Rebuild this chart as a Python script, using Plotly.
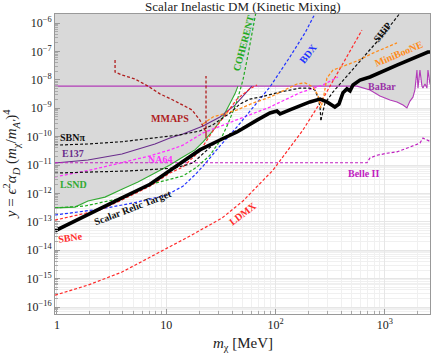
import numpy as np
import plotly.graph_objects as go

# ---------------- data (m_chi in MeV, y dimensionless) ----------------
relic_m = [0.96, 2.0, 3.93, 7.1, 10.8, 20.3, 31.0, 44.4, 67.6, 88.8, 103, 110, 135, 206, 255, 295, 349, 380, 414, 450, 480, 511, 592, 731, 1291, 1698, 2479, 2642]
relic_y = [4.8e-14, 2.0e-13, 6.9e-13, 2.1e-12, 6.2e-12, 3.4e-11, 7.6e-11, 1.45e-10, 3.8e-10, 6.8e-10, 7.9e-10, 6.3e-10, 8.7e-10, 1.66e-9, 2.1e-9, 1.66e-9, 1.1e-9, 1.4e-9, 3.5e-9, 4.8e-9, 4.1e-9, 6.6e-9, 9.8e-9, 1.26e-8, 3.3e-8, 5.0e-8, 9.5e-8, 9.5e-8]

babar_m = [0.96, 470, 556, 731, 902, 1114, 1291, 1466, 1592, 1698, 1807, 1884, 1966, 2009, 2094, 2184, 2232, 2328, 2427, 2479, 2588, 2642]
babar_y = [6.0e-9, 6.0e-9, 6.0e-9, 4.4e-9, 2.7e-9, 1.95e-9, 1.66e-9, 1.29e-9, 1.02e-9, 1.78e-9, 2.45e-9, 4.4e-9, 2.2e-8, 5.1e-9, 2.2e-8, 6.0e-9, 5.1e-9, 7.1e-9, 5.1e-9, 2.2e-8, 7.1e-9, 7.1e-9]

lsnd_m = [0.96, 1.46, 1.92, 2.75, 3.93, 5.51, 7.88, 10.8, 14.2, 18.3, 21.7, 26.7, 33.0, 38.3, 42.5, 45.3]
lsnd_y = [3.1e-13, 3.3e-13, 5.4e-13, 7.4e-13, 1.41e-12, 2.5e-12, 5.2e-12, 1.0e-11, 1.9e-11, 3.4e-11, 6.5e-11, 1.58e-10, 4.9e-10, 1.41e-9, 3.2e-9, 6.0e-9]

coherent_m = [0.96, 1.80, 3.54, 7.88, 10.1, 14.2, 19.1, 25.1, 31.0, 36.7, 44.4, 50.3, 55.9, 62.1, 66.2]
coherent_y = [3.1e-13, 3.6e-13, 6.3e-13, 2.3e-12, 2.95e-12, 4.1e-12, 8.5e-12, 2.2e-11, 7.1e-11, 2.8e-10, 1.78e-9, 9.8e-9, 7.4e-8, 5.6e-7, 2.45e-6]

bdx_m = [0.96, 2.47, 4.96, 10.1, 14.2, 18.3, 21.7, 31.0, 44.4, 62.1, 88.8, 135, 186, 234]
bdx_y = [1.74e-13, 2.8e-13, 4.6e-13, 8.7e-13, 1.8e-12, 4.5e-12, 9.1e-12, 4.7e-11, 2.2e-10, 1.1e-9, 5.6e-9, 6.3e-8, 4.5e-7, 2.45e-6]

sbne_m = [0.96, 2.47, 3.93, 7.10, 10.8, 14.2, 20.3, 26.7, 33.0, 44.4, 58.3, 67.6]
sbne_y = [1.15e-13, 2.6e-13, 5.9e-13, 1.8e-12, 5.2e-12, 8.5e-12, 3.1e-11, 1.58e-10, 4.5e-10, 2.1e-9, 4.8e-9, 6.6e-9]

ldmx_m = [0.96, 1.92, 3.93, 7.88, 15.8, 32.3, 50.3, 94.7, 178, 283, 431, 617]
ldmx_y = [2.6e-16, 5.9e-16, 1.7e-15, 6.8e-15, 2.9e-14, 1.35e-13, 5.4e-13, 6.6e-12, 1.7e-10, 2.9e-9, 5.0e-8, 5.6e-7]

e137_m = [0.96, 1.92, 3.93, 7.88, 10.8, 14.2, 21.7, 31.0, 42.5, 58.3, 60.8]
e137_y = [1.17e-11, 1.5e-11, 2.45e-11, 5.5e-11, 8.9e-11, 1.23e-10, 2.35e-10, 4.9e-10, 1.29e-9, 5.1e-9, 6.0e-9]

na64_m = [0.96, 2.0, 3.77, 7.10, 10.8, 14.2, 21.7, 44.4, 88.8, 167, 272, 372]
na64_y = [3.8e-12, 6.6e-12, 1.17e-11, 2.1e-11, 3.4e-11, 5.0e-11, 1.35e-10, 3.8e-10, 1.1e-9, 3.5e-9, 6.6e-9, 1.26e-8]

belle2_m = [0.96, 686, 731, 847, 1045, 1291, 1698, 2094, 2232, 2427, 2642]
belle2_y = [1.2e-11, 1.2e-11, 1.78e-11, 2.2e-11, 2.6e-11, 2.9e-11, 4.3e-11, 5.9e-11, 8.9e-11, 7.6e-11, 6.5e-11]

sbnpi_m = [0.96, 1.92, 3.93, 7.88, 13.3, 20.3, 26.7, 38.3, 47.2, 58.3, 71.9, 110, 167, 206, 229, 244, 255, 260]
sbnpi_y = [5.0e-11, 5.5e-11, 6.6e-11, 8.9e-11, 1.15e-10, 1.58e-10, 2.6e-10, 6.8e-10, 1.41e-9, 2.1e-9, 2.45e-9, 3.7e-9, 5.1e-9, 5.1e-9, 4.4e-9, 2.45e-9, 1.1e-9, 3.8e-10]

sbnlow_m = [0.96, 4.66, 12.0, 17.5, 22.6, 27.9, 38.3, 58.3, 80.0, 98.8]
sbnlow_y = [5.2e-12, 6.2e-12, 7.8e-12, 1.17e-11, 2.9e-11, 5.9e-11, 1.25e-10, 2.8e-10, 5.3e-10, 7.8e-10]

ship_m = [260, 283, 335, 480, 686, 961, 1403]
ship_y = [3.8e-10, 1.51e-9, 3.7e-9, 1.74e-8, 8.7e-8, 3.8e-7, 2.45e-6]

miniboone_m = [21.7, 26.7, 44.4, 62.1, 88.8, 127, 157, 186, 220, 244, 260, 277, 295, 335, 556, 778, 1291]
miniboone_y = [2.8e-10, 4.9e-10, 8.7e-10, 1.51e-9, 2.45e-9, 4.8e-9, 7.1e-9, 7.8e-9, 5.6e-9, 2.9e-9, 1.02e-9, 2.9e-9, 1.15e-8, 2.2e-8, 4.6e-8, 8.7e-8, 2.0e-7]

mmaps_m = [3.40, 3.40, 3.93, 5.17, 6.8, 8.75, 11.5, 14.2, 17.2, 20.3, 23.1, 23.1, 23.1]
mmaps_y = [5.0e-8, 1.86e-8, 1.48e-8, 1.07e-8, 6.0e-9, 3.2e-9, 1.95e-9, 1.29e-9, 8.7e-10, 3.8e-10, 1.45e-10, 8.9e-11, 1.35e-8]

# labels: text, mass, y, colour, angle
label_text = ["MMAPS", "SBNπ", "E137", "NA64", "LSND", "Scalar Relic Target", "SBNe", "LDMX",
              "Belle II", "BaBar", "MiniBooNE", "SHiP", "BDX", "COHERENT"]
label_m = [10.8, 1.40, 1.40, 8.75, 1.42, 4.96, 1.32, 50.3, 631, 940, 1346, 940, 198, 51.4]
label_y = [4.5e-10, 9.5e-11, 2.6e-11, 1.55e-11, 2.0e-12, 3.1e-13, 2.9e-14, 2.0e-13, 5.2e-12, 5.6e-9, 8.7e-8, 4.8e-7, 8.7e-8, 2.0e-7]
label_color = ["#b01e1e", "#111111", "#6a2d8c", "#ff30ff", "#33aa33", "#111111", "#ff2a2a", "#ff2a2a",
               "#c020c0", "#9a32a8", "#ff8c1a", "#111111", "#2233ff", "#22aa22"]
label_angle = [0, 0, 0, 0, 0, -21, -8, -37, 0, 0, -23, -52, -52, -75]

x_tickvals = [1, 10, 100, 1000]
x_ticktext = ["1", "10", "10<sup>2</sup>", "10<sup>3</sup>"]
y_exps = list(range(-16, -5))

FONT = "Liberation Serif"
fig = go.Figure()

# grey excluded region: above LSND, then BaBar
fill_m = lsnd_m + [m for m in babar_m if m > lsnd_m[-1]] + [babar_m[-1], lsnd_m[0]]
fill_y = lsnd_y + [y for m, y in zip(babar_m, babar_y) if m > lsnd_m[-1]] + [1e-4, 1e-4]
fig.add_trace(go.Scatter(x=fill_m, y=fill_y, mode="lines", fill="toself",
                         fillcolor="#d9d9d9", line=dict(width=0), hoverinfo="skip"))

def add(m, y, color, width=1.2, dash="3px,2px"):
    fig.add_trace(go.Scatter(x=m, y=y, mode="lines",
                             line=dict(color=color, width=width, dash=dash)))

add(babar_m, babar_y, "#b23cb8", 1.1, "solid")
add(lsnd_m, lsnd_y, "#33aa33", 1.1, "solid")
add(e137_m, e137_y, "#6a2d8c", 1.1, "solid")
add(belle2_m, belle2_y, "#c020c0", 1.2)
add(na64_m, na64_y, "#ff30ff", 1.3)
add(coherent_m, coherent_y, "#22aa22", 1.2)
add(bdx_m, bdx_y, "#2233ff", 1.2)
add(ldmx_m, ldmx_y, "#ff2a2a", 1.2)
add(sbne_m, sbne_y, "#ff2a2a", 1.2)
add(sbnpi_m, sbnpi_y, "#111111", 1.2)
add(sbnlow_m, sbnlow_y, "#111111", 1.2)
add(ship_m, ship_y, "#111111", 1.2)
add(miniboone_m, miniboone_y, "#ff8c1a", 1.3)
add(mmaps_m, mmaps_y, "#b01e1e", 1.3)
add(relic_m, relic_y, "#000000", 3.6, "solid")

for t, m, y, c, a in zip(label_text, label_m, label_y, label_color, label_angle):
    fig.add_annotation(x=np.log10(m), y=np.log10(y), text="<b>%s</b>" % t, showarrow=False,
                       textangle=a, font=dict(family=FONT, size=10, color=c),
                       xanchor="center", yanchor="middle")

fig.add_annotation(xref="paper", yref="paper", x=0.5, y=1, yanchor="bottom", xanchor="center",
                   text="Scalar Inelastic DM (Kinetic Mixing)", showarrow=False, yshift=-2,
                   font=dict(family=FONT, size=13, color="#222"))
fig.add_annotation(xref="paper", yref="paper", x=0.5, y=0, yanchor="top", xanchor="center",
                   text="<i>m</i><sub>χ</sub> [MeV]", showarrow=False, yshift=-19,
                   font=dict(family=FONT, size=15, color="#222"))
fig.add_annotation(xref="paper", yref="paper", x=-0.117, y=0.5, xanchor="center", yanchor="middle",
                   text="<i>y</i> = <i>ϵ</i><sup>2</sup><i>α</i><sub><i>D</i></sub> (<i>m</i><sub>χ</sub>/<i>m</i><sub><i>A'</i></sub>)<sup>4</sup>",
                   textangle=-90, showarrow=False, font=dict(family=FONT, size=15, color="#222"))

x_minor = [k * 10 ** d for d in range(0, 4) for k in range(2, 10) if k * 10 ** d < 2700]
y_minor = [k * 10.0 ** e for e in range(-17, -5) for k in range(2, 10)]

fig.update_xaxes(type="log", range=[-0.018, 3.413], tickvals=x_tickvals, ticktext=x_ticktext,
                 ticks="inside", ticklen=5, tickcolor="#999", showgrid=True, gridcolor="#e6e6e6",
                 minor=dict(tickvals=x_minor, ticks="inside", ticklen=3, tickcolor="#aaa",
                            showgrid=True, gridcolor="#f0f0f0"),
                 showline=True, mirror=True, linecolor="#999", linewidth=1,
                 tickfont=dict(family=FONT, size=12, color="#222"), zeroline=False)
fig.update_yaxes(type="log", range=[-16.246, -5.683],
                 tickvals=[10.0 ** e for e in y_exps],
                 ticktext=["10<sup>−%d</sup>" % (-e) for e in y_exps],
                 ticks="inside", ticklen=5, tickcolor="#999", showgrid=True, gridcolor="#e6e6e6",
                 minor=dict(tickvals=y_minor, ticks="inside", ticklen=3, tickcolor="#aaa",
                            showgrid=True, gridcolor="#f0f0f0"),
                 showline=True, mirror=True, linecolor="#999", linewidth=1,
                 tickfont=dict(family=FONT, size=12, color="#222"), zeroline=False)

fig.update_layout(width=431, height=356, margin=dict(l=55, r=1, t=14, b=42),
                  paper_bgcolor="white", plot_bgcolor="white", showlegend=False)
fig.write_html("out.html", config={"displayModeBar": False},
               post_script="document.body.style.margin='0px';document.body.style.padding='0px';")
